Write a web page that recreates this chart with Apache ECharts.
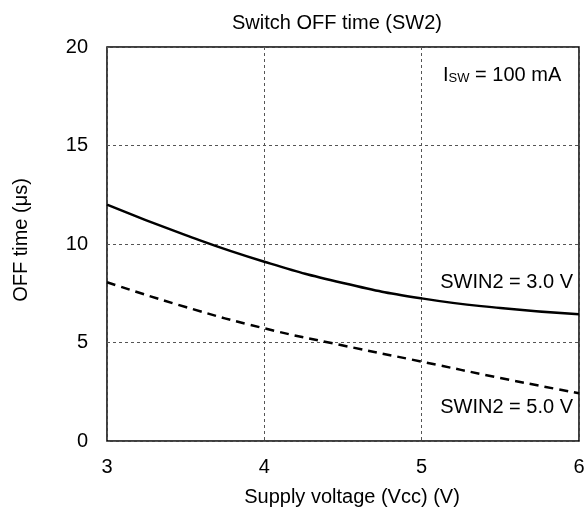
<!DOCTYPE html>
<html>
<head>
<meta charset="utf-8">
<script src="https://cdn.jsdelivr.net/npm/echarts@6/dist/echarts.min.js"></script>
<style>
  html, body { margin: 0; padding: 0; background: #fff; }
  #chart { width: 588px; height: 513px; }
</style>
</head>
<body>
<div id="chart"></div>
<script>
// supply voltage (V)
const vcc = [3, 3.5, 4, 4.5, 5, 5.5, 6]
// OFF time (us) for SWIN2 = 3.0 V
const offTime30 = [12.0, 10.45, 9.1, 8.02, 7.24, 6.75, 6.43]
// OFF time (us) for SWIN2 = 5.0 V
const offTime50 = [8.06, 6.8, 5.72, 4.85, 4.03, 3.2, 2.42]

const font = 'Liberation Sans, Arial, sans-serif'

const chart = echarts.init(document.getElementById('chart'))

const option = {
  animation: false,
  title: {
    text: 'Switch OFF time (SW2)',
    left: 332,
    top: 8,
    textAlign: 'center',
    textStyle: { fontFamily: font, fontSize: 20, fontWeight: 'normal', color: '#000' }
  },
  grid: {
    left: 107, right: 9, top: 47, bottom: 72,
    show: true, borderColor: '#000', borderWidth: 1.5, backgroundColor: 'transparent'
  },
  xAxis: {
    type: 'value',
    min: 3, max: 6, interval: 1,
    name: 'Supply voltage (Vcc) (V)',
    nameLocation: 'middle',
    nameGap: 46,
    nameTextStyle: { fontFamily: font, fontSize: 20, color: '#000', padding: [0, 0, 0, 18] },
    axisLine: { show: false },
    axisTick: { show: false },
    axisLabel: { fontFamily: font, fontSize: 20, color: '#000', margin: 16 },
    splitLine: { lineStyle: { color: '#555', type: [3, 3], width: 1 } }
  },
  yAxis: {
    type: 'value',
    min: 0, max: 20, interval: 5,
    name: 'OFF time (μs)',
    nameLocation: 'middle',
    nameGap: 76,
    nameTextStyle: { fontFamily: font, fontSize: 20, color: '#000', padding: [0, 0, 0, 8] },
    axisLine: { show: false },
    axisTick: { show: false },
    axisLabel: { fontFamily: font, fontSize: 20, color: '#000', margin: 19 },
    splitLine: { lineStyle: { color: '#555', type: [3, 3], width: 1 } }
  },
  series: [
    {
      name: 'SWIN2 = 3.0 V',
      type: 'line',
      smooth: true,
      symbol: 'none',
      data: vcc.map((v, i) => [v, offTime30[i]]),
      lineStyle: { color: '#000', width: 2.5 }
    },
    {
      name: 'SWIN2 = 5.0 V',
      type: 'line',
      smooth: true,
      symbol: 'none',
      data: vcc.map((v, i) => [v, offTime50[i]]),
      lineStyle: { color: '#000', width: 2.5, type: [9, 6] }
    }
  ],
  graphic: [
    {
      type: 'text',
      left: 443, top: 65,
      style: {
        rich: {
          a: { fontFamily: font, fontSize: 20, fill: '#000' },
          b: { fontFamily: font, fontSize: 13, fill: '#000', verticalAlign: 'bottom', padding: [5, 0, 0, 0] },
          c: { fontFamily: font, fontSize: 20, fill: '#000' }
        },
        text: '{a|I}{b|SW}{c| = 100 mA}'
      }
    },
    {
      type: 'text',
      right: 15, top: 272,
      style: { text: 'SWIN2 = 3.0 V', fontFamily: font, fontSize: 20, fill: '#000' }
    },
    {
      type: 'text',
      right: 15, top: 397,
      style: { text: 'SWIN2 = 5.0 V', fontFamily: font, fontSize: 20, fill: '#000' }
    }
  ]
}

chart.setOption(option)
</script>
</body>
</html>
